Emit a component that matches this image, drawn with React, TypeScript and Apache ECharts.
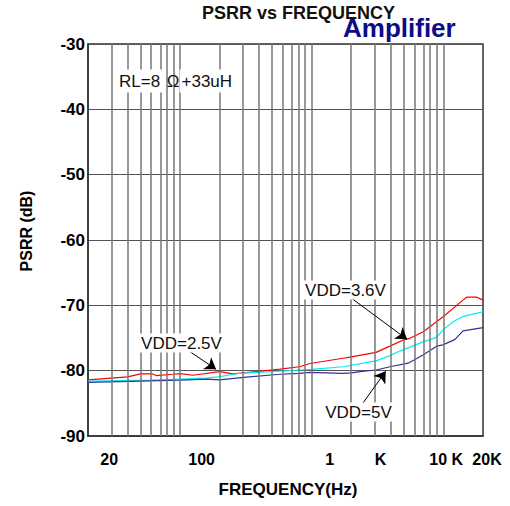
import React, { useEffect, useRef } from 'react';
import * as echarts from 'echarts';

const FONT = '"Liberation Sans", Arial, sans-serif';

// VDD=2.5V (red)
const freqRed = [20, 40, 50, 62, 66, 88, 100, 125, 200, 250, 320, 575, 810, 970, 1730, 2000, 3080, 3930, 4960, 5570, 7040, 9960, 14070, 15000, 18000, 20000];
const psrrRed = [-81.4, -80.95, -80.5, -80.5, -80.75, -80.55, -80.45, -80.7, -80.15, -80.5, -80.3, -79.75, -79.4, -78.9, -78.1, -77.9, -77.2, -76.25, -75.3, -75.05, -74.05, -71.75, -69.2, -68.75, -68.75, -69.2];

// VDD=3.6V (cyan)
const freqCyan = [20, 60, 100, 157, 200, 285, 500, 810, 1000, 1730, 3080, 3930, 4680, 5570, 7000, 8900, 9900, 11870, 14070, 20000];
const psrrCyan = [-81.6, -81.45, -81.3, -81.15, -80.9, -80.4, -80.15, -79.9, -79.8, -79.4, -78.5, -77.7, -77.0, -76.4, -75.6, -74.9, -73.8, -72.5, -71.7, -71.0];

// VDD=5V (blue)
const freqBlue = [20, 50, 100, 160, 200, 320, 575, 810, 970, 1730, 2000, 2320, 3080, 3930, 5400, 7000, 8900, 9900, 12200, 14100, 20000];
const psrrBlue = [-81.8, -81.6, -81.45, -81.3, -81.4, -81.0, -80.55, -80.4, -80.25, -80.4, -80.35, -80.15, -79.9, -79.4, -78.85, -77.6, -76.25, -76.05, -75.25, -73.9, -73.4];

const gridFreqs = [30, 40, 50, 60, 70, 80, 90, 100, 200, 300, 400, 500, 600, 700, 800, 900, 1000, 2000, 3000, 4000, 5000, 6000, 7000, 8000, 9000, 10000];
const tickLabelFreqs = [29, 146, 1370, 3330, 10500, 20000];
const tickLabels = ['20', '100', '1', 'K', '10 K', '20K'];

const arrowFrom = [[119, -77.1], [2010, -68.93], [2390, -85.26]];
const arrowTo = [[188, -79.8], [5300, -75.2], [3650, -80.1]];

const X_MIN = Math.log10(20);
const X_MAX = Math.log10(20000);

const toXY = (fs: number[], vs: number[]) => fs.map((f, i) => [Math.log10(f), vs[i]]);

export default function App() {
  const ref = useRef<HTMLDivElement>(null);
  useEffect(() => {
    document.body.style.margin = '0';
    const chart = echarts.init(ref.current!, null, { renderer: 'svg' });
    const lastIdx = tickLabels.length - 1;
    const option: any = {
      animation: false,
      backgroundColor: '#fff',
      title: [
        {
          text: 'PSRR vs FREQUENCY', left: 202, top: 4, padding: 0,
          textStyle: { fontSize: 18, fontWeight: 'bold', fontFamily: FONT, color: '#111' },
        },
        {
          text: 'Amplifier', left: 343, top: 15, padding: 0,
          textStyle: { fontSize: 26, fontWeight: 'bold', fontFamily: FONT, color: '#0c0c88' },
        },
      ],
      grid: {
        left: 88, right: 27, top: 44, bottom: 70,
        show: true, borderColor: '#333', borderWidth: 1.5, backgroundColor: 'transparent',
      },
      xAxis: {
        type: 'value', min: X_MIN, max: X_MAX,
        name: 'FREQUENCY(Hz)', nameLocation: 'middle', nameGap: 45,
        nameTextStyle: { fontSize: 17, fontWeight: 'bold', fontFamily: FONT, color: '#000', padding: [0, 0, 0, 5] },
        axisLine: { show: true, lineStyle: { color: '#333', width: 1.5 } },
        axisTick: { show: false },
        splitLine: { show: false },
        axisLabel: {
          customValues: tickLabelFreqs.map((f) => Math.log10(f)),
          fontSize: 16, fontWeight: 'bold', fontFamily: FONT, color: '#000', margin: 15,
          formatter: (v: number) => {
            const i = tickLabelFreqs.findIndex((f) => Math.abs(Math.log10(f) - v) < 1e-6);
            if (i < 0) return '';
            return i === lastIdx ? `{r|${tickLabels[i]}}` : tickLabels[i];
          },
          rich: { r: { fontSize: 16, fontWeight: 'bold', fontFamily: FONT, color: '#000', padding: [0, 0, 0, 8] } },
        },
      },
      yAxis: {
        type: 'value', min: -90, max: -30, interval: 10,
        name: 'PSRR (dB)', nameLocation: 'middle', nameGap: 54,
        nameTextStyle: { fontSize: 16, fontWeight: 'bold', fontFamily: FONT, color: '#000', padding: [0, 0, 0, 18] },
        axisLine: { show: true, lineStyle: { color: '#333', width: 1.5 } },
        axisTick: { show: false },
        axisLabel: { fontSize: 17, fontWeight: 'bold', fontFamily: FONT, color: '#000', margin: 3 },
        splitLine: { show: true, lineStyle: { color: '#555', width: 1 } },
      },
      series: [
        {
          type: 'line', data: [], z: 1, silent: true,
          markLine: {
            silent: true, symbol: 'none', label: { show: false }, emphasis: { disabled: true },
            lineStyle: { color: '#777', width: 1.5, type: 'solid' },
            data: gridFreqs.map((f) => ({ xAxis: Math.log10(f) })),
          },
        },
        {
          name: 'VDD=2.5V', type: 'line', data: toXY(freqRed, psrrRed), z: 3,
          symbol: 'none', lineStyle: { color: '#ff0000', width: 1.2 }, itemStyle: { color: '#ff0000' },
        },
        {
          name: 'VDD=3.6V', type: 'line', data: toXY(freqCyan, psrrCyan), z: 3,
          symbol: 'none', lineStyle: { color: '#00f0f0', width: 1.2 }, itemStyle: { color: '#00f0f0' },
        },
        {
          name: 'VDD=5V', type: 'line', data: toXY(freqBlue, psrrBlue), z: 3,
          symbol: 'none', lineStyle: { color: '#333399', width: 1.2 }, itemStyle: { color: '#333399' },
        },
        {
          type: 'line', data: [], z: 5, silent: true,
          markLine: {
            silent: true, symbol: ['none', 'arrow'], symbolSize: 11,
            label: { show: false }, emphasis: { disabled: true },
            lineStyle: { color: '#000', width: 1, type: 'solid' },
            data: arrowFrom.map((a, i) => [
              { coord: [Math.log10(a[0]), a[1]] },
              { coord: [Math.log10(arrowTo[i][0]), arrowTo[i][1]] },
            ]),
          },
        },
      ],
      graphic: [
        {
          type: 'text', x: 117, y: 81, z: 100,
          style: {
            text: '{a|RL=8}{b| Ω}{a|+33uH}',
            fontSize: 17, fontFamily: FONT, fill: '#111', verticalAlign: 'middle', align: 'left',
            rich: {
              a: { fontSize: 17, fontFamily: FONT, fill: '#111', backgroundColor: '#fff', padding: [3, 2] },
              b: { fontSize: 17, fontFamily: FONT, fill: '#111' },
            },
          },
        },
        {
          type: 'text', x: 181.5, y: 343, z: 100,
          style: { text: 'VDD=2.5V', fontSize: 17, fontFamily: FONT, fill: '#111', align: 'center', verticalAlign: 'middle', backgroundColor: '#fff', padding: [1, 2] },
        },
        {
          type: 'text', x: 345.5, y: 290, z: 100,
          style: { text: 'VDD=3.6V', fontSize: 17, fontFamily: FONT, fill: '#111', align: 'center', verticalAlign: 'middle', backgroundColor: '#fff', padding: [1, 2] },
        },
        {
          type: 'text', x: 358.5, y: 412, z: 100,
          style: { text: 'VDD=5V', fontSize: 17, fontFamily: FONT, fill: '#111', align: 'center', verticalAlign: 'middle', backgroundColor: '#fff', padding: [1, 2] },
        },
      ],
    };
    chart.setOption(option);
    return () => chart.dispose();
  }, []);
  return <div ref={ref} style={{ width: 510, height: 506, background: '#fff' }} />;
}
